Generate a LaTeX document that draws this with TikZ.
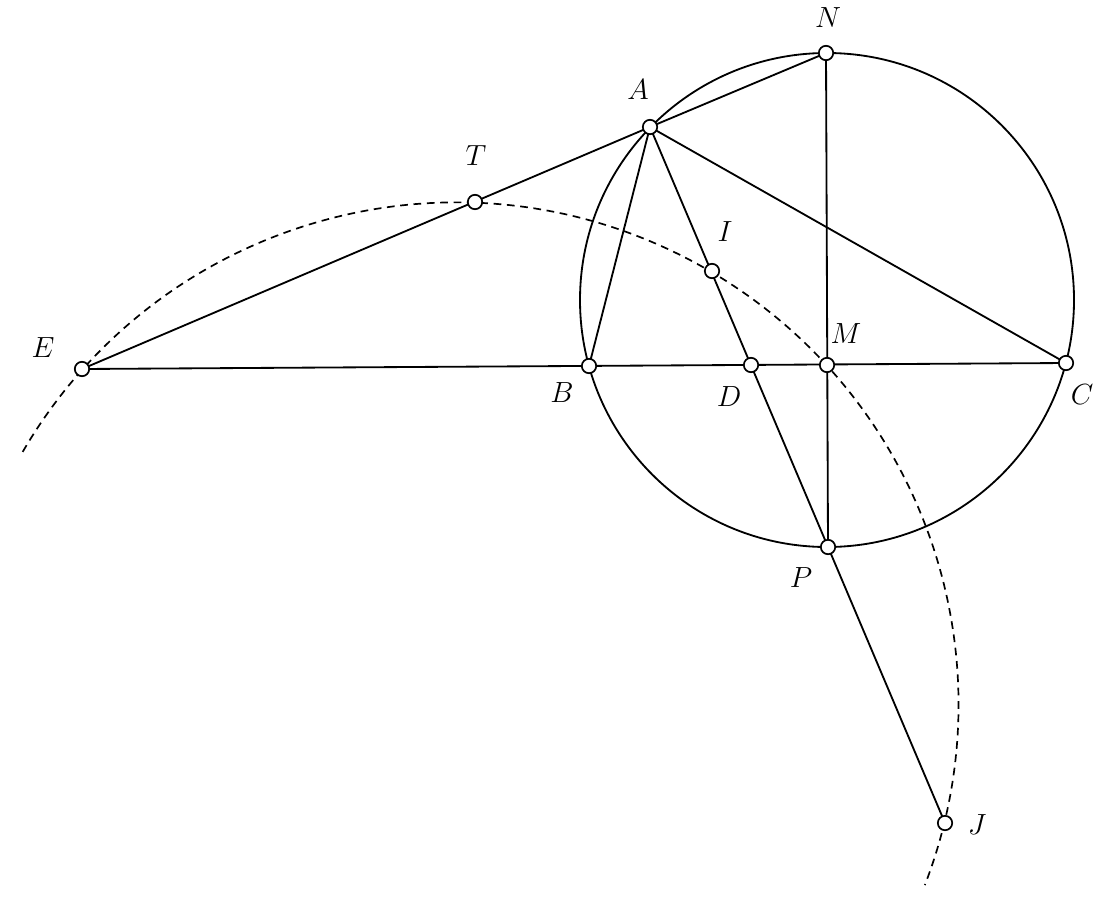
\documentclass[tikz,border=0pt]{standalone}
\begin{document}
\begin{tikzpicture}[x=0.025cm,y=0.025cm,
  seg/.style={line width=1.3pt},
  dsh/.style={line width=1.2pt,dash pattern=on 5.5pt off 4pt},
  pt/.style={circle,draw,fill=white,line width=1.2pt,inner sep=0pt,minimum size=0.36cm},
  lab/.style={font=\huge}]
\useasboundingbox (0,0) rectangle (1103,-901);
% points
\coordinate (N) at (826,-53);
\coordinate (A) at (650,-127);
\coordinate (T) at (475,-202);
\coordinate (I) at (712,-271);
\coordinate (M) at (827,-365);
\coordinate (E) at (82,-369);
\coordinate (B) at (589,-366);
\coordinate (D) at (751,-365);
\coordinate (C) at (1066,-363);
\coordinate (P) at (828,-547);
\coordinate (J) at (945,-823);
\coordinate (O) at (827,-300);
\coordinate (O2) at (456.5,-704.4);
% circle
\draw[seg] (O) circle[radius=247];
% dashed arc
\draw[dsh] (O2) ++(149.8:502) arc[start angle=149.8, end angle=-21.1, radius=502];
% segments
\draw[seg] (E) -- (A);
\draw[seg] (E) -- (C);
\draw[seg] (A) -- (N);
\draw[seg] (A) -- (B);
\draw[seg] (A) -- (C);
\draw[seg] (A) -- (J);
\draw[seg] (N) -- (P);
% markers
\foreach \p in {N,A,T,I,M,E,B,D,C,P,J} \node[pt] (m\p) at (\p) {};
% labels
\node[lab] (lN) at (828,-18) {$N$};
\node[lab] (lA) at (638,-90) {$A$};
\node[lab] (lT) at (476,-156) {$T$};
\node[lab] (lI) at (725,-232) {$I$};
\node[lab] (lM) at (846,-334) {$M$};
\node[lab] (lE) at (43,-348) {$E$};
\node[lab] (lB) at (562,-393) {$B$};
\node[lab] (lD) at (729,-397) {$D$};
\node[lab] (lC) at (1082,-395) {$C$};
\node[lab] (lP) at (801,-578) {$P$};
\node[lab] (lJ) at (977,-825) {$J$};
\end{tikzpicture}
\end{document}
